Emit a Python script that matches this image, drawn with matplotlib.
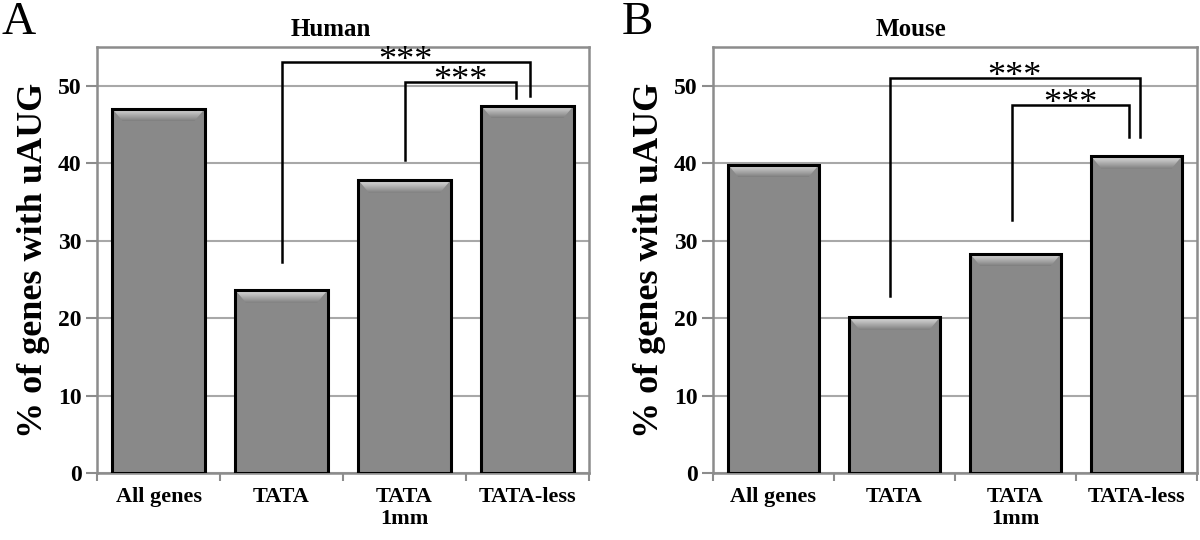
import numpy as np
import matplotlib
matplotlib.use("Agg")
import matplotlib.pyplot as plt
from matplotlib.patches import Polygon
from matplotlib.colors import LinearSegmentedColormap

# ---- data ----
categories = ["All genes", "TATA", "TATA\n1mm", "TATA-less"]
human_values = [47.0, 23.6, 37.8, 47.4]
mouse_values = [39.8, 20.1, 28.3, 40.9]
yticks = [0, 10, 20, 30, 40, 50]
titles = ["Human", "Mouse"]
panel_letters = ["A", "B"]
ylabel = "% of genes with uAUG"
# brackets: (x_left, x_right, top, left_bottom, right_bottom, label)
human_brackets = [(1.0, 3.02, 53.0, 27.3, 48.7, "***"),
                  (2.0, 2.91, 50.5, 40.4, 48.4, "***")]
mouse_brackets = [(0.96, 3.03, 51.0, 22.9, 43.4, "***"),
                  (1.97, 2.94, 47.5, 32.7, 43.4, "***")]

SERIF = ["Liberation Serif", "DejaVu Serif"]
plt.rcParams["font.family"] = SERIF

W, H = 1200, 540
fig = plt.figure(figsize=(12, 5.4), dpi=100)
axL = fig.add_axes([97 / W, 67 / H, 492 / W, 426 / H])
axR = fig.add_axes([713 / W, 67 / H, 484 / W, 426 / H])

BAR_COLOR = "#898989"
GRID = "#a8a8a8"
FRAME = "#8c8c8c"
BAR_W = 0.75
grad = np.linspace(0, 1, 64).reshape(-1, 1)
bevel_cmap = LinearSegmentedColormap.from_list(
    "bev", [(0.0, "#7e7e7e"), (0.15, "#8e8e8e"), (0.7, "#c4c4c4"), (1.0, "#d8d8d8")])


def draw_panel(ax, values, brackets, title, title_x):
    x = np.arange(len(categories))
    ax.set_axisbelow(True)
    ax.yaxis.grid(True, color=GRID, lw=1.5)
    ax.set_yticks(yticks)
    ax.set_yticklabels([str(t) for t in yticks], fontsize=17, fontweight="bold")
    ax.tick_params(axis="y", length=8, width=1.5, color=FRAME, pad=3)
    ax.set_xticks(x)
    ax.set_xticklabels(categories, fontsize=16, fontweight="bold", linespacing=1.15)
    ax.tick_params(axis="x", which="major", length=0, pad=10)
    ax.set_xticks(np.arange(-0.5, len(categories), 1.0), minor=True)
    ax.tick_params(axis="x", which="minor", length=6, width=1.5, color=FRAME)
    for s in ax.spines.values():
        s.set_color(FRAME)
        s.set_linewidth(1.8)

    ax.bar(x, values, width=BAR_W, color=BAR_COLOR, edgecolor="none", zorder=2)
    # bevel on top of each bar
    hb = 1.6
    inset = 0.085
    for xi, v in zip(x, values):
        x0, x1 = xi - BAR_W / 2, xi + BAR_W / 2
        poly = Polygon([[x0, v], [x1, v], [x1 - inset, v - hb], [x0 + inset, v - hb]],
                       closed=True, transform=ax.transData, facecolor="none",
                       edgecolor="none")
        ax.add_patch(poly)
        im = ax.imshow(grad, extent=[x0, x1, v - hb, v], aspect="auto",
                       cmap=bevel_cmap, origin="lower", zorder=2.5,
                       interpolation="bilinear")
        im.set_clip_path(poly)
        ax.plot([x0, x1, x1, x0, x0], [0, 0, v, v, 0], color="black", lw=2.2,
                zorder=3, solid_joinstyle="miter")
    ax.set_xlim(-0.5, len(categories) - 0.5)
    ax.set_ylim(0, 55)

    for (xl, xr, top, lb, rb, lab) in brackets:
        ax.plot([xl, xl, xr, xr], [lb, top, top, rb], color="black", lw=1.8,
                zorder=4, solid_joinstyle="miter")
        ax.text((xl + xr) / 2, top - 1.0, lab, ha="center", va="baseline",
                fontsize=26, zorder=5)

    ax.text(title_x, 1.015, title, transform=ax.transAxes, ha="center",
            va="bottom", fontsize=18, fontweight="bold")
    ax.set_ylabel(ylabel, fontsize=26, fontweight="bold", labelpad=6)


draw_panel(axL, human_values, human_brackets, titles[0], 0.476)
draw_panel(axR, mouse_values, mouse_brackets, titles[1], 0.41)

fig.text(2 / W, 1 - 2 / H, panel_letters[0], ha="left", va="top", fontsize=34)
fig.text(622 / W, 1 - 2 / H, panel_letters[1], ha="left", va="top", fontsize=34)

fig.savefig("out.png", dpi=100)
